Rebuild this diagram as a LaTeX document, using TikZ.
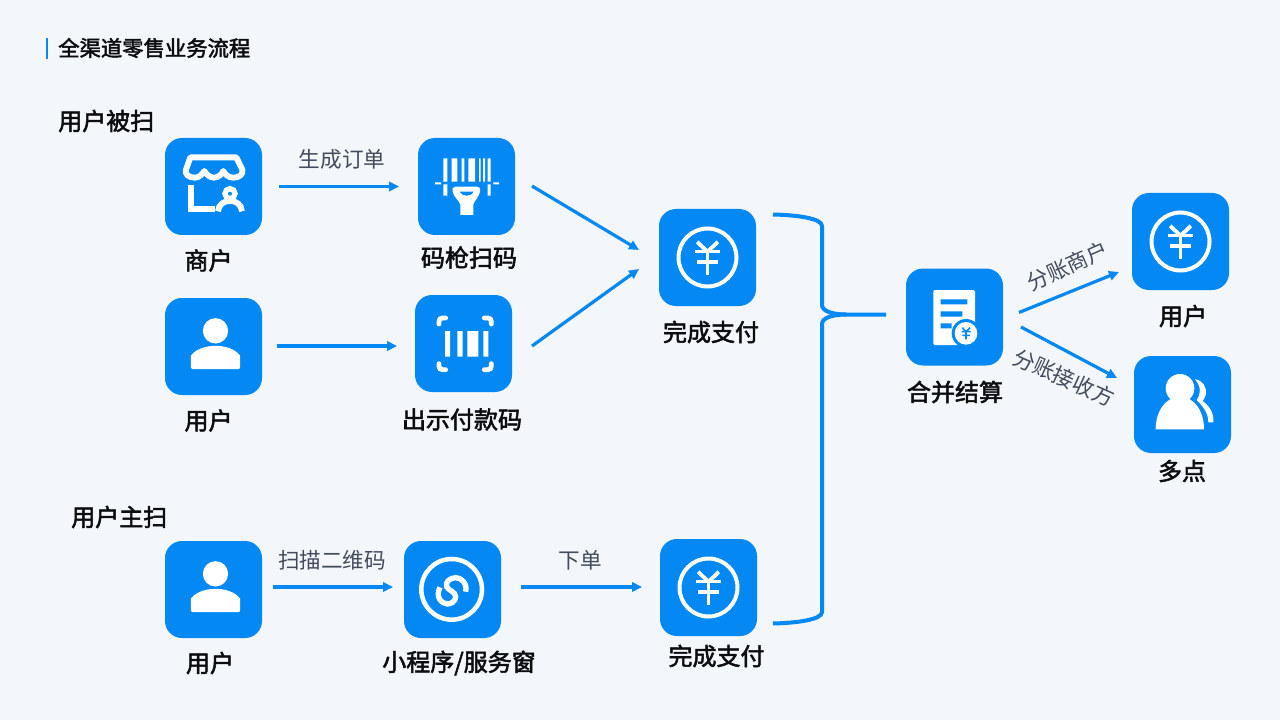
\documentclass[tikz,border=0pt]{standalone}
\usepackage{fontspec}
\usetikzlibrary{arrows.meta}
\newfontfamily\cjkr{Noto Sans CJK SC}
\newfontfamily\cjkm{Noto Sans CJK SC}[FakeBold=2.2]
\definecolor{bg}{HTML}{F3F6FA}
\definecolor{brand}{HTML}{0388F4}
\definecolor{ink}{HTML}{0C0D0F}
\definecolor{lab}{HTML}{434C5E}
\tikzset{
  tile/.style={fill=brand,draw=none,rounded corners=12.75pt,minimum size=72.75pt,inner sep=0pt},
  flow/.style={draw=brand,line width=2.4pt,-{Triangle[length=7.5pt,width=7pt]}},
  bracepath/.style={draw=brand,line width=3pt,line join=round},
  cap18/.style={font=\cjkm\fontsize{18pt}{20pt}\selectfont,text=ink,inner sep=0pt},
  head16/.style={font=\cjkm\fontsize{16pt}{19pt}\selectfont,text=ink,inner sep=0pt},
  lab16/.style={font=\cjkr\fontsize{16.2pt}{19pt}\selectfont,text=lab,inner sep=0pt},
  ws/.style={draw=white,line width=3pt},
}
% icon coordinates are in units of 1/3 pixel
\newcommand{\yenicon}[2]{\begin{scope}[shift={(#1,#2)},x=.25pt,y=-.25pt]
  \draw[ws] (0,0) circle[radius=87];
  \draw[draw=white,line width=2.9pt] (-31,-47) -- (0,-17) -- (31,-47);
  \draw[draw=white,line width=2.9pt] (-38,-18) -- (38,-18) (-31,13) -- (31,13) (0,-18) -- (0,51);
\end{scope}}
\newcommand{\personicon}[2]{\begin{scope}[shift={(#1,#2)},x=.25pt,y=-.25pt]
  \fill[white] (6,-47) circle[radius=38];
  \fill[white] (-68,27) .. controls (-50,5) and (-20,-2) .. (6,-2) .. controls (32,-2) and (62,5) .. (80,27)
     -- (80,60) .. controls (80,66) and (78,68) .. (72,68) -- (-60,68) .. controls (-66,68) and (-68,66) .. (-68,60) -- cycle;
\end{scope}}
\begin{document}
\begin{tikzpicture}[x=.75pt,y=-.75pt]
\useasboundingbox (0,0) rectangle (1280,720);
\fill[bg] (0,0) rectangle (1280,720);
% title
\fill[brand] (46,38.5) rectangle (48,59);
\node[head16,anchor=west] (title) at (58,48) {全渠道零售业务流程};
\node[cap18,anchor=west] (grpA) at (58,121) {用户被扫};
\node[cap18,anchor=west] (grpB) at (71,517) {用户主扫};
% tiles
\node[tile] (shop) at (213.5,186.5) {};
\node[tile] (scan) at (466.5,186.5) {};
\node[tile] (userA) at (213.5,346.5) {};
\node[tile] (code) at (463.5,343.5) {};
\node[tile] (payA) at (707.5,257.5) {};
\node[tile] (merge) at (954.5,317) {};
\node[tile] (userC) at (1180.5,241.5) {};
\node[tile] (multi) at (1182.5,404.5) {};
\node[tile] (userB) at (213.5,589.5) {};
\node[tile] (mini) at (452.5,589.5) {};
\node[tile] (payB) at (708.5,587.5) {};
% captions
\node[cap18] (capShop) at (208.5,260.5) {商户};
\node[cap18] (capScan) at (469,257.5) {码枪扫码};
\node[cap18] (capUserA) at (208.5,420.5) {用户};
\node[cap18] (capCode) at (462,419.5) {出示付款码};
\node[cap18] (capPayA) at (711,332) {完成支付};
\node[cap18] (capMerge) at (955,392) {合并结算};
\node[cap18] (capUserC) at (1183,316) {用户};
\node[cap18] (capMulti) at (1182,471) {多点};
\node[cap18] (capUserB) at (210,663) {用户};
\node[cap18] (capMini) at (459,663) {小程序/服务窗};
\node[cap18] (capPayB) at (716.5,656) {完成支付};
% connector labels
\node[lab16] (l1) at (342,159.5) {生成订单};
\node[lab16] (l2) at (332,560) {扫描二维码};
\node[lab16] (l3) at (580,560) {下单};
\node[lab16,rotate=24] (l4) at (1067.5,266) {分账商户};
\node[lab16,rotate=-24] (l5) at (1064,377.5) {分账接收方};
% connector ends
\coordinate (a1) at (279,186.5); \coordinate (b1) at (399,186.5);
\coordinate (a2) at (277,346); \coordinate (b2) at (397,346);
\coordinate (a3) at (532,186); \coordinate (b3) at (639,250);
\coordinate (a4) at (532,346); \coordinate (b4) at (639,269);
\coordinate (a5) at (273,587); \coordinate (b5) at (393,587);
\coordinate (a6) at (521,587); \coordinate (b6) at (642,587);
\coordinate (a7) at (1019,312.5); \coordinate (b7) at (1119,272);
\coordinate (a8) at (1021,327); \coordinate (b8) at (1117,378);
\draw[flow] (a1) -- (b1);
\draw[flow] (a2) -- (b2);
\draw[flow] (a3) -- (b3);
\draw[flow] (a4) -- (b4);
\draw[flow] (a5) -- (b5);
\draw[flow] (a6) -- (b6);
\draw[flow] (a7) -- (b7);
\draw[flow] (a8) -- (b8);
% brace
\coordinate (brT) at (773,214.5);
\coordinate (brB) at (773,623.5);
\coordinate (brM) at (886,314.5);
\draw[bracepath] (brT) .. controls (795,215) and (822,218) .. (822,226)
  -- (822,305) .. controls (822,311) and (832,314.5) .. (846,314.5) -- (brM);
\draw[bracepath] (846,314.5) .. controls (832,314.5) and (822,318) .. (822,324)
  -- (822,612) .. controls (822,620) and (795,623) .. (brB);
% icons
\yenicon{707.5}{257.5}
\yenicon{708.5}{587.5}
\yenicon{1180.5}{241.5}
\personicon{213.5}{346.5}
\personicon{213.5}{589.5}
% shop
\begin{scope}[shift={(165,135)},x=.25pt,y=-.25pt]
  \draw[draw=white,line width=4.4pt,line join=round] (76,67) -- (214,67) -- (232,104) .. controls (236,118) and (222,128) .. (205,128)
     .. controls (190,128) and (180,118) .. (175,108) .. controls (170,118) and (160,128) .. (147,128)
     .. controls (134,128) and (124,118) .. (118,108) .. controls (112,118) and (102,128) .. (90,128)
     .. controls (72,128) and (58,118) .. (63,104) -- cycle;
  \draw[draw=white,line width=4.4pt] (78,150) -- (78,222) -- (150,222);
  \draw[draw=white,line width=4pt] (195,176) circle[radius=15];
  \draw[draw=white,line width=4.4pt] (159,229) .. controls (162,187) and (228,187) .. (231,229);
\end{scope}
% scanner
\begin{scope}[shift={(415,135)},x=.25pt,y=-.25pt]
  \fill[white] (85,70) rectangle (97,140) (110,70) rectangle (127,140) (140,70) rectangle (148,140)
    (160,70) rectangle (180,140) (192,70) rectangle (197,140) (204,70) rectangle (210,140) (218,70) rectangle (227,140)
    (85,148) rectangle (97,182) (218,148) rectangle (227,182)
    (60,142) rectangle (78,148) (235,142) rectangle (252,148);
  \fill[white] (122,155) -- (186,155) .. controls (194,155) and (197,160) .. (195,170)
    .. controls (192,185) and (180,195) .. (175,208) -- (175,240) -- (136,240) -- (136,208)
    .. controls (130,195) and (116,185) .. (113,170) .. controls (111,160) and (114,155) .. (122,155) -- cycle;
  \fill[brand] (134,170) -- (176,170) .. controls (170,186) and (140,186) .. (134,170) -- cycle;
\end{scope}
% payment code
\begin{scope}[shift={(150,125)},x=.25pt,y=-.25pt]
  \fill[white] (885,618) rectangle (900,695) (922,618) rectangle (938,695) (952,618) rectangle (985,695) (1000,618) rectangle (1015,695);
  \draw[draw=white,line width=3.6pt,line cap=round,rounded corners=2.5pt]
    (867,597) -- (867,579) -- (887,579)
    (1003,579) -- (1024,579) -- (1024,597)
    (867,716) -- (867,734) -- (887,734)
    (1003,734) -- (1024,734) -- (1024,716);
\end{scope}
% mini program
\begin{scope}[shift={(390,530)},x=.25pt,y=-.25pt]
  \draw[draw=white,line width=3.4pt] (185,178) circle[radius=91];
  \draw[draw=white,line width=4pt] (227,185) .. controls (233,160) and (212,142) .. (197,143)
    .. controls (180,144) and (165,155) .. (170,170) .. controls (175,182) and (197,185) .. (197,200)
    .. controls (197,215) and (182,222) .. (172,222) .. controls (155,222) and (135,200) .. (150,172);
\end{scope}
% receipt
\begin{scope}[shift={(905,265)},x=.25pt,y=-.25pt]
  \fill[white,rounded corners=1pt] (85,75) rectangle (210,240);
  \fill[brand] (107,103) rectangle (187,118) (107,139) rectangle (172,155) (107,175) rectangle (140,190);
  \fill[brand] (183,205) circle[radius=43];
  \fill[white] (183,205) circle[radius=34];
  \draw[draw=brand,line width=1.2pt] (172,188) -- (183,200) -- (195,188) (170,200) -- (197,200) (172,211) -- (195,211) (183,200) -- (183,223);
\end{scope}
% group
\begin{scope}[shift={(1000,180)},x=.25pt,y=-.25pt]
  \fill[white] (540,625) circle[radius=43];
  \fill[white] (467,748) .. controls (467,690) and (500,650) .. (540,650) .. controls (580,650) and (612,690) .. (612,748) -- cycle;
  \fill[white] (585,598) .. controls (608,600) and (622,622) .. (617,645) .. controls (614,655) and (610,660) .. (608,663)
     .. controls (630,680) and (642,700) .. (640,727) -- (625,727) .. controls (625,700) and (610,680) .. (590,660)
     .. controls (602,645) and (605,620) .. (585,598) -- cycle;
\end{scope}
\end{tikzpicture}
\end{document}
